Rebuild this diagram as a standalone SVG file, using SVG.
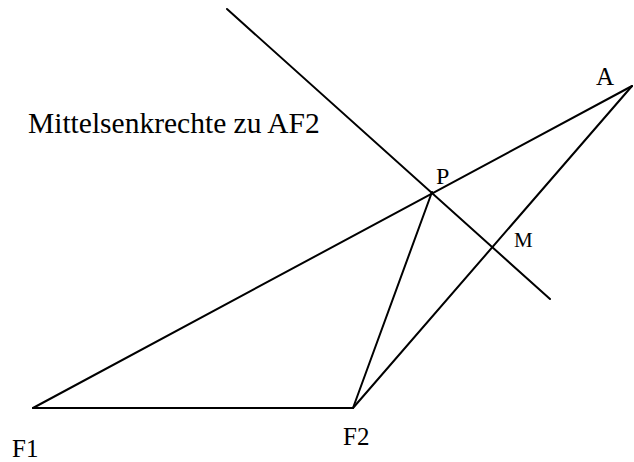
<svg xmlns="http://www.w3.org/2000/svg" width="634" height="462" viewBox="0 0 634 462">
<style>
.l{stroke:#000;stroke-width:2;fill:none;stroke-linecap:round}
.t{font-family:"Liberation Serif","Times New Roman","DejaVu Serif",serif;fill:#000}
</style>
<rect width="634" height="462" fill="#fff"/>
<g id="connectors">
<line class="l" x1="227" y1="9" x2="550" y2="299"/>
<line class="l" x1="33" y1="408" x2="632" y2="86"/>
<line class="l" x1="33" y1="408" x2="353" y2="408"/>
<line class="l" x1="353" y1="408" x2="632" y2="86"/>
<line class="l" x1="353" y1="408" x2="432" y2="192"/>
</g>
<g id="label"><text class="t" x="28" y="133" font-size="29.5">Mittelsenkrechte zu AF2</text></g>
<g id="F1"><text class="t" x="12" y="457" font-size="25">F1</text></g>
<g id="F2"><text class="t" x="343" y="445" font-size="25">F2</text></g>
<g id="A"><text class="t" x="596" y="85" font-size="25">A</text></g>
<g id="P"><text class="t" x="436" y="184" font-size="24">P</text></g>
<g id="M"><text class="t" x="514" y="247" font-size="21">M</text></g>
</svg>
